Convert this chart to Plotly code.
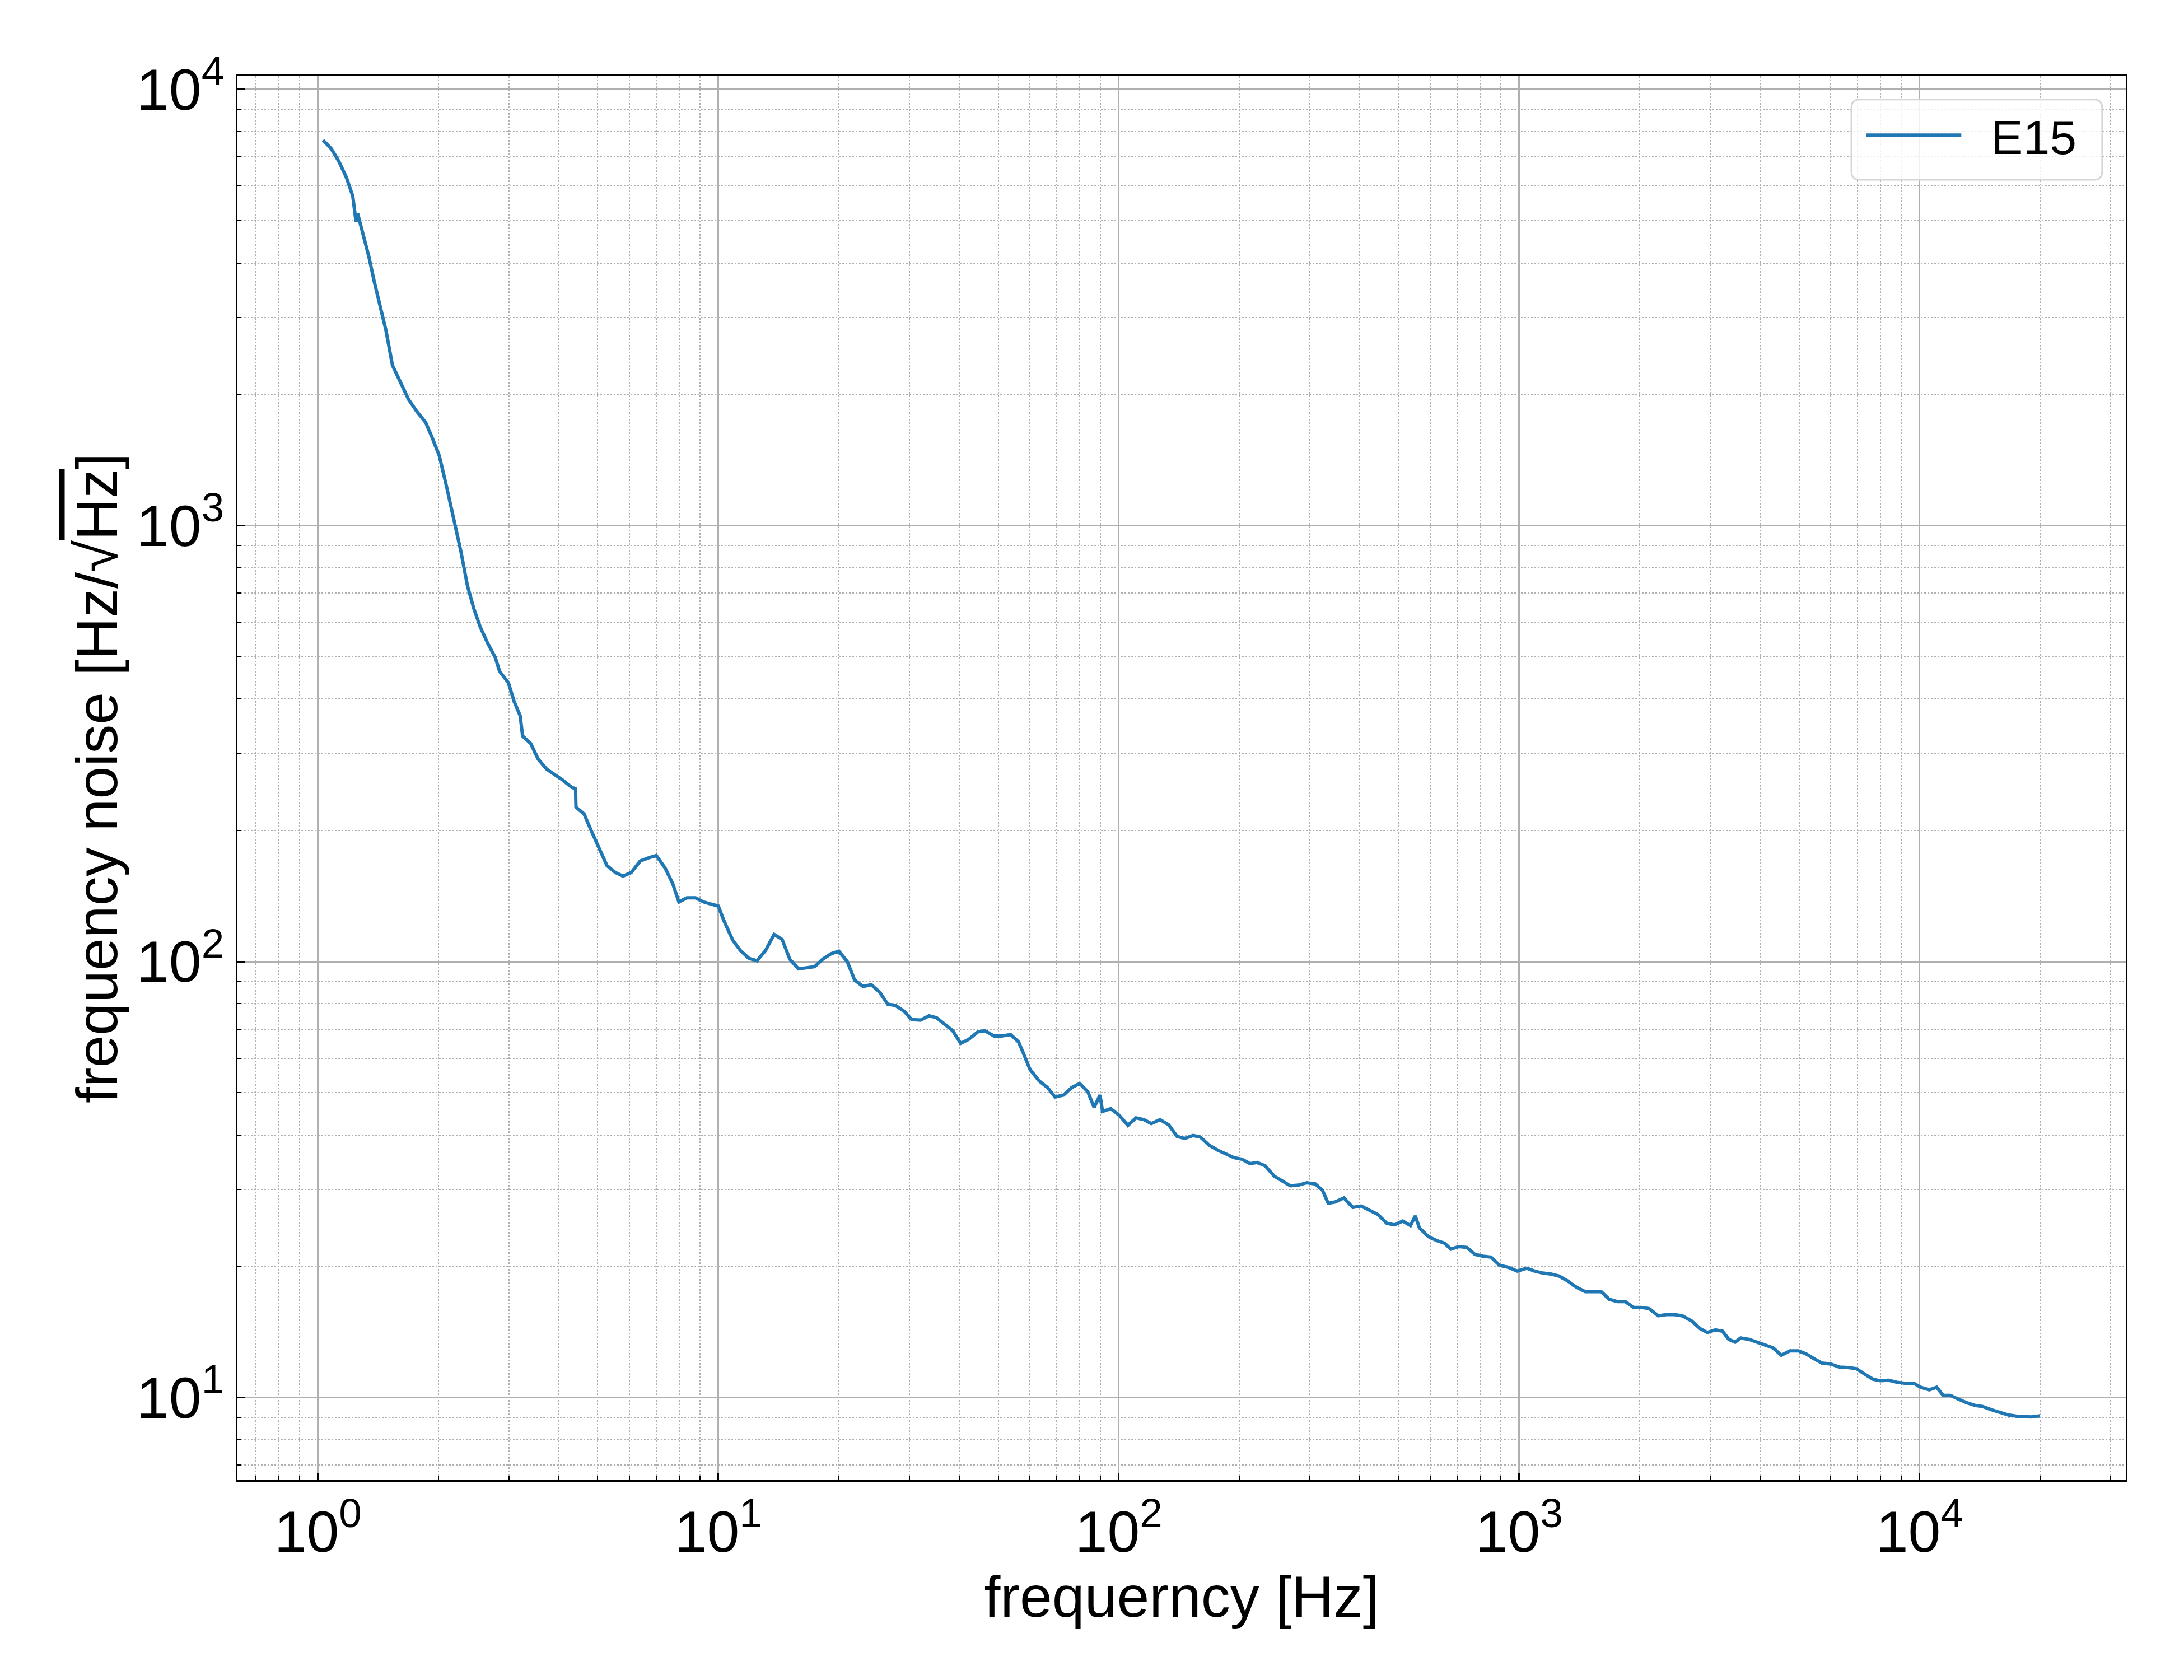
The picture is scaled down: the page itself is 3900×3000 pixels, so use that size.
import plotly.graph_objects as go

# frequency noise spectrum
freq = [1.03, 1.08, 1.128, 1.178, 1.222, 1.245, 1.257, 1.30, 1.34, 1.383,
        1.434, 1.479, 1.535, 1.612, 1.684, 1.769, 1.858, 1.928, 2.01, 2.10,
        2.19, 2.275, 2.363, 2.452, 2.545, 2.657, 2.773, 2.843, 2.99, 3.09,
        3.20, 3.245, 3.40, 3.55, 3.73, 4.08, 4.30, 4.40, 4.41, 4.62,
        4.81, 5.04, 5.27, 5.53, 5.78, 6.06, 6.38, 6.71, 7.00, 7.36,
        7.69, 7.97, 8.35, 8.77, 9.18, 10.0, 10.33, 10.86, 11.35, 11.92,
        12.49, 13.12, 13.78, 14.43, 15.09, 15.85, 16.65, 17.40, 18.22, 19.14,
        20.0, 21.0, 21.9, 23.0, 24.1, 25.3, 26.5, 27.7, 29.1, 30.4,
        32.0, 33.6, 35.1, 36.8, 38.5, 40.3, 42.2, 44.5, 46.3, 48.8,
        51.0, 53.7, 56.2, 57.8, 60.0, 63.2, 66.4, 69.3, 72.8, 76.3,
        79.9, 83.7, 86.8, 89.8, 91.1, 95.5, 100.3, 105.4, 110.4, 115.6,
        120.6, 126.8, 133.3, 139.9, 146.2, 153.4, 159.8, 168.3, 176.9, 185.3,
        194.0, 203.2, 212.8, 221.6, 232.1, 244.5, 255.9, 268.2, 280.8, 295.1,
        309.7, 322.6, 333.5, 347.4, 365.1, 384.1, 403.0, 421.3, 443.7, 467.2,
        488.2, 512.1, 535.3, 550.3, 563.6, 593.5, 623.7, 651.1, 675.5, 707.3,
        740.6, 775.5, 812.1, 850.4, 893.8, 939.4, 989, 1045, 1094, 1146,
        1200, 1257, 1323, 1391, 1462, 1531, 1603, 1679, 1761, 1841,
        1931, 2018, 2113, 2226, 2331, 2441, 2556, 2692, 2829, 2952,
        3091, 3219, 3339, 3464, 3574, 3750, 3920, 4160, 4309, 4516,
        4744, 4985, 5203, 5433, 5708, 5996, 6300, 6618, 6953, 7303,
        7652, 7980, 8363, 8786, 9173, 9672, 10062, 10571, 11035, 11455,
        11930, 12407, 13120, 13780, 14384, 15110, 15873, 16680, 17522, 18980,
        20000]
noise = [7650, 7310, 6840, 6280, 5690, 4970, 5190, 4620, 4140, 3620,
         3130, 2800, 2330, 2110, 1945, 1822, 1723, 1592, 1445, 1217,
         1025, 873, 727, 644, 584, 536, 498, 463, 436, 395,
         366, 329, 316, 291, 276, 261, 251, 249, 226, 218,
         200, 181, 166, 160, 157, 160, 170, 173, 175, 164,
         151, 137, 140, 140, 137, 134, 124, 112, 106, 101.7,
         100.4, 106, 115.4, 112.4, 101.2, 96.2, 96.9, 97.3, 101.2, 104.2,
         105.6, 99.9, 90.7, 87.6, 88.5, 85.0, 79.8, 79.3, 76.9, 73.6,
         73.4, 75.1, 74.3, 71.9, 69.4, 64.9, 66.3, 69.0, 69.4, 67.5,
         67.5, 68.0, 65.4, 61.6, 56.6, 53.3, 51.4, 48.9, 49.4, 51.4,
         52.5, 50.3, 46.3, 49.4, 45.3, 46.0, 44.4, 42.1, 43.8, 43.4,
         42.5, 43.4, 42.2, 39.7, 39.3, 39.9, 39.6, 37.9, 36.9, 36.2,
         35.5, 35.2, 34.4, 34.6, 34.0, 32.2, 31.4, 30.6, 30.7, 31.1,
         30.9, 29.9, 27.9, 28.1, 28.7, 27.3, 27.5, 27.0, 26.3, 25.1,
         24.9, 25.4, 24.8, 26.1, 24.5, 23.4, 22.9, 22.6, 21.9, 22.2,
         22.1, 21.3, 21.1, 21.0, 20.1, 19.9, 19.5, 19.8, 19.5, 19.3,
         19.2, 19.0, 18.5, 17.9, 17.5, 17.5, 17.5, 16.8, 16.6, 16.6,
         16.1, 16.1, 16.0, 15.4, 15.5, 15.5, 15.4, 15.0, 14.4, 14.1,
         14.3, 14.2, 13.6, 13.4, 13.7, 13.6, 13.4, 13.15, 13.0, 12.5,
         12.8, 12.8, 12.6, 12.3, 12.0, 11.94, 11.75, 11.72, 11.65, 11.31,
         11.02, 10.93, 10.96, 10.84, 10.79, 10.79, 10.56, 10.42, 10.56, 10.12,
         10.12, 9.95, 9.73, 9.59, 9.54, 9.38, 9.25, 9.12, 9.06, 9.03,
         9.08]

x_major = [1, 10, 100, 1000, 10000]
x_major_text = ['10<sup>0</sup>', '10<sup>1</sup>', '10<sup>2</sup>', '10<sup>3</sup>', '10<sup>4</sup>']
y_major = [10, 100, 1000, 10000]
y_major_text = ['10<sup>1</sup>', '10<sup>2</sup>', '10<sup>3</sup>', '10<sup>4</sup>']

# minor ticks 2..9 of every decade
x_minor = [m * 10 ** d for d in range(-1, 5) for m in range(2, 10)]
y_minor = [m * 10 ** d for d in range(0, 4) for m in range(2, 10)]

FONT = 'Liberation Sans, Arial, Helvetica, sans-serif'
GRID = '#b0b0b0'

fig = go.Figure()
# two no-break spaces keep the gap between legend line and label
fig.add_trace(go.Scatter(x=freq, y=noise, mode='lines', name='\u00a0\u00a0E15',
                         line=dict(color='#1f77b4', width=6)))

axis_common = dict(
    type='log',
    tickmode='array',
    ticks='inside', ticklen=13, tickwidth=3, tickcolor='black',
    showline=True, linecolor='black', linewidth=3, mirror=True,
    showgrid=True, gridcolor=GRID, gridwidth=3,
    zeroline=False,
    tickfont=dict(family=FONT, size=104, color='black'),
    ticklabelstandoff=0,
    automargin=False,
)

fig.update_xaxes(
    **axis_common,
    range=[-0.201, 4.515],
    tickvals=x_major, ticktext=x_major_text,
    minor=dict(tickmode='array', tickvals=x_minor, ticks='inside', ticklen=7,
               tickwidth=2, tickcolor='black', showgrid=True,
               gridcolor=GRID, gridwidth=2, griddash='dot'),
    title=dict(text='frequerncy [Hz]', font=dict(family=FONT, size=104, color='black'),
               standoff=0),
)
fig.update_yaxes(
    **axis_common,
    range=[0.8108, 4.0304],
    tickvals=y_major, ticktext=y_major_text,
    minor=dict(tickmode='array', tickvals=y_minor, ticks='inside', ticklen=7,
               tickwidth=2, tickcolor='black', showgrid=True,
               gridcolor=GRID, gridwidth=2, griddash='dot'),
    title=dict(text='frequency noise [Hz/\u221a<span style="text-decoration:overline">Hz</span>]',
               font=dict(family=FONT, size=104, color='black'), standoff=0),
)

# rounded legend frame like matplotlib's fancybox
def rounded_box(x0, y0, x1, y1, rx, ry):
    return (f'M {x0 + rx},{y0} L {x1 - rx},{y0} Q {x1},{y0} {x1},{y0 + ry} '
            f'L {x1},{y1 - ry} Q {x1},{y1} {x1 - rx},{y1} '
            f'L {x0 + rx},{y1} Q {x0},{y1} {x0},{y1 - ry} '
            f'L {x0},{y0 + ry} Q {x0},{y0} {x0 + rx},{y0} Z')

fig.add_shape(type='path', xref='paper', yref='paper',
              path=rounded_box(0.8547, 0.9262, 0.9875, 0.9833, 0.0045, 0.006),
              line=dict(color='#d6d6d6', width=3),
              fillcolor='rgba(255,255,255,0.8)', layer='above')

fig.update_layout(
    width=3900, height=3000,
    margin=dict(l=416, r=112, t=128, b=365),
    paper_bgcolor='white', plot_bgcolor='white',
    font=dict(family=FONT, color='black'),
    showlegend=True,
    legend=dict(x=0.861, y=0.958, xanchor='left', yanchor='middle',
                bgcolor='rgba(0,0,0,0)', borderwidth=0,
                font=dict(family=FONT, size=86, color='black'),
                itemwidth=170),
)

fig.write_html('out.html')
